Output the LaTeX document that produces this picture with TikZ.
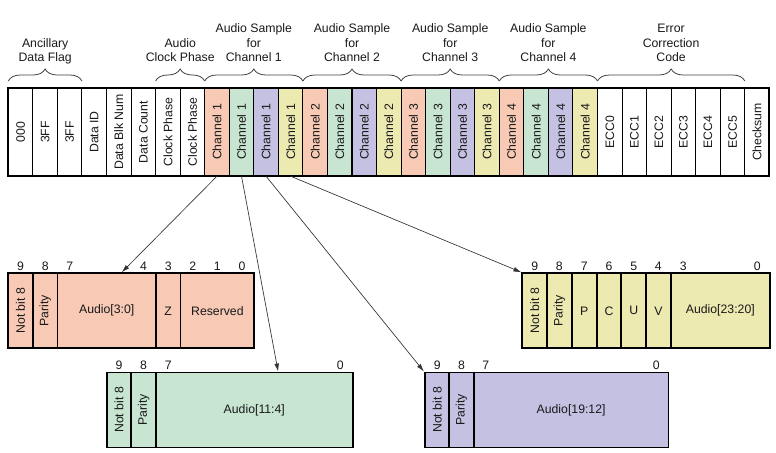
\documentclass[tikz,border=0pt]{standalone}
\usepackage{fontspec}
\setmainfont{Liberation Sans}
\usetikzlibrary{arrows.meta,decorations.pathreplacing,calc}

\definecolor{chA}{RGB}{248,202,182}
\definecolor{chB}{RGB}{199,229,209}
\definecolor{chC}{RGB}{196,193,226}
\definecolor{chD}{RGB}{236,233,177}

\tikzset{
	every node/.style={font=\fontsize{9.2}{10.9}\selectfont, text=black!90},
	slot/.style={draw, line width=0.8pt, rotate=90, minimum width=65.5pt, minimum height=18.4pt, inner sep=0pt},
	field/.style={draw, line width=1.4pt, minimum height=56.25pt, inner sep=0pt},
	vfield/.style={field, rotate=90, minimum width=56.25pt, minimum height=18.45pt},
	bitnum/.style={anchor=base, inner sep=0pt},
	brace/.style={decorate, decoration={brace, amplitude=9pt}, line width=0.6pt, draw=black!75},
	group/.style={anchor=south, align=center, inner sep=0pt, text depth=0pt},
	link/.style={-{Latex[length=6pt,width=3.5pt]}, line width=0.5pt, draw=black!80}
}

\begin{document}
\begin{tikzpicture}[x=0.75pt,y=-0.75pt]
	\useasboundingbox (0,0) rectangle (776,453);

	\foreach \lbl/\col [count=\i] in {000/white,3FF/white,3FF/white,Data ID/white,Data Blk Num/white,Data Count/white,Clock Phase/white,Clock Phase/white,
		Channel 1/chA,Channel 1/chB,Channel 1/chC,Channel 1/chD,Channel 2/chA,Channel 2/chB,Channel 2/chC,Channel 2/chD,
		Channel 3/chA,Channel 3/chB,Channel 3/chC,Channel 3/chD,Channel 4/chA,Channel 4/chB,Channel 4/chC,Channel 4/chD,
		ECC0/white,ECC1/white,ECC2/white,ECC3/white,ECC4/white,ECC5/white,Checksum/white}
		\node[slot, fill=\col] (t\i) at ({8.3+24.55*(\i-0.5)},132) {\lbl};
	\draw[line width=1.7pt] (8.3,88.3) rectangle (769.35,175.7);

	\foreach \xa/\xb in {8.3/81.95, 155.6/204.7, 204.7/302.9, 302.9/401.1, 401.1/499.3, 499.3/597.5, 597.5/744.8}
		\draw[brace] (\xa,81) -- (\xb,81);
	\node[group] (gflag) at (45.2,62) {Ancillary\\Data Flag};
	\node[group] (gclock) at (180.2,62) {Audio\\Clock Phase};
	\node[group] (gch1) at (253.8,62) {Audio Sample\\for\\Channel 1};
	\node[group] (gch2) at (352,62) {Audio Sample\\for\\Channel 2};
	\node[group] (gch3) at (450.2,62) {Audio Sample\\for\\Channel 3};
	\node[group] (gch4) at (548.4,62) {Audio Sample\\for\\Channel 4};
	\node[group] (gecc) at (671.1,62) {Error\\Correction\\Code};

	% first sample word
	\node[vfield, fill=chA] (a9) at (20.6,310.8) {Not bit 8};
	\node[vfield, fill=chA] (a8) at (45.2,310.8) {Parity};
	\node[field, fill=chA, minimum width=73.8pt] (a74) at (106.7,310.8) {Audio[3:0]};
	\node[field, fill=chA, minimum width=18.45pt] (a3) at (168.2,310.8) {Z};
	\node[field, fill=chA, minimum width=55.35pt] (a20) at (217.4,310.8) {Reserved};
	\foreach \b/\x in {9/20.6, 8/45.2, 7/69.8, 4/143.6, 3/168.2, 2/192.8, 1/217.4, 0/242}
		\node[bitnum] (na\b) at (\x,270) {\b};

	% second sample word
	\node[vfield, fill=chB] (b9) at (119,410) {Not bit 8};
	\node[vfield, fill=chB] (b8) at (143.6,410) {Parity};
	\node[field, fill=chB, minimum width=147.6pt] (b70) at (254.3,410) {Audio[11:4]};
	\foreach \b/\x in {9/119, 8/143.6, 7/168.2, 0/340.4}
		\node[bitnum] (nb\b) at (\x,369.5) {\b};

	% third sample word
	\node[vfield, fill=chC] (c9) at (437.2,410) {Not bit 8};
	\node[vfield, fill=chC] (c8) at (461.5,410) {Parity};
	\node[field, fill=chC, minimum width=146.1pt] (c70) at (571.1,410) {Audio[19:12]};
	\foreach \b/\x in {9/437.2, 8/461.5, 7/485.9, 0/656.3}
		\node[bitnum] (nc\b) at (\x,369.5) {\b};

	% fourth sample word
	\node[vfield, fill=chD] (d9) at (534.7,310.8) {Not bit 8};
	\node[vfield, fill=chD] (d8) at (559.4,310.8) {Parity};
	\node[field, fill=chD, minimum width=18.56pt] (d7) at (584.2,310.8) {P};
	\node[field, fill=chD, minimum width=18.56pt] (d6) at (609,310.8) {C};
	\node[field, fill=chD, minimum width=18.56pt] (d5) at (633.7,310.8) {U};
	\node[field, fill=chD, minimum width=18.56pt] (d4) at (658.4,310.8) {V};
	\node[field, fill=chD, minimum width=74.25pt] (d30) at (720.3,310.8) {Audio[23:20]};
	\foreach \b/\x in {9/534.7, 8/559.4, 7/584.2, 6/609, 5/633.7, 4/658.4, 3/683.2, 0/757.4}
		\node[bitnum] (nd\b) at (\x,270) {\b};

	\draw[link] (t9.west) -- ($(a74.north west)!0.65!(a74.north east)$);
	\draw[link] (t10.west) -- ($(b70.north west)!0.62!(b70.north east)$);
	\draw[link] (t11.west) -- (c9.north east);
	\draw[link] (t12.west) -- (d9.north east);
\end{tikzpicture}
\end{document}
